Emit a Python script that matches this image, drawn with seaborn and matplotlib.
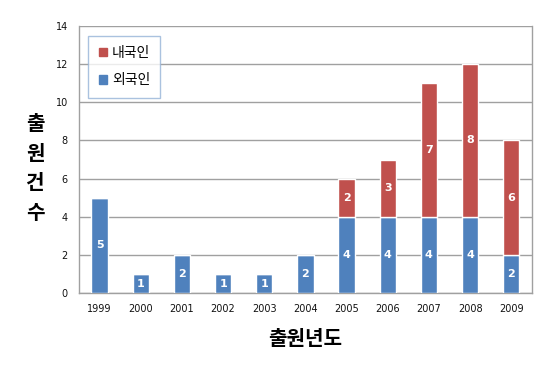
import pandas as pd
import matplotlib
matplotlib.use("Agg")
import matplotlib.pyplot as plt
import seaborn as sns
from matplotlib.patches import Patch

## Data
years = ["1999", "2000", "2001", "2002", "2003", "2004",
         "2005", "2006", "2007", "2008", "2009"]
foreign = [5, 1, 2, 1, 1, 2, 4, 4, 4, 4, 2]   # 외국인
domestic = [0, 0, 0, 0, 0, 0, 2, 3, 7, 8, 6]  # 내국인

blue = "#4F81BD"
red = "#C0504D"

sns.set_theme(style="white")
plt.rcParams["font.family"] = ["Noto Sans CJK KR", "DejaVu Sans"]

df = pd.DataFrame({"year": years, "foreign": foreign, "domestic": domestic})

fig = plt.figure(figsize=(5.5, 3.65), dpi=100)
ax = fig.add_axes([0.1436, 0.197, 0.8234, 0.732])

sns.barplot(data=df, x="year", y="foreign", color=blue, width=0.4,
            saturation=1, ax=ax, zorder=3)
sns.barplot(data=df, x="year", y="domestic", color=red, width=0.4,
            saturation=1, ax=ax, bottom=df["foreign"], zorder=3)

# value labels in the middle of each segment
for cont, vals in zip(ax.containers, [foreign, domestic]):
    labels = [str(v) if v > 0 else "" for v in vals]
    ax.bar_label(cont, labels=labels, label_type="center", color="white",
                 fontsize=8, fontweight="bold", family="DejaVu Sans")

ax.set_ylim(0, 14)
ax.set_xlim(-0.5, 10.5)
ax.set_yticks(range(0, 15, 2))
ax.yaxis.grid(True, color="#A0A0A0", linewidth=1, zorder=0)
ax.tick_params(axis="both", labelsize=7, length=0, pad=8, colors="#111111")
for lab in ax.get_xticklabels():
    lab.set_family("DejaVu Sans")
for lab in ax.get_yticklabels():
    lab.set_family("DejaVu Sans")

for side in ["left", "right", "bottom", "top"]:
    ax.spines[side].set_color("#A0A0A0")
    ax.spines[side].set_linewidth(1)
ax.spines["top"].set_visible(False)

ax.set_xlabel("출원년도", fontsize=14.5, fontweight="bold", labelpad=10,
              color="black")
ax.set_ylabel("")
fig.text(0.064, 0.54, "출\n원\n건\n수", fontsize=14.5, fontweight="bold",
         ha="center", va="center", linespacing=1.5, color="black")

handles = [Patch(color=red, label="내국인"), Patch(color=blue, label="외국인")]
leg = ax.legend(handles=handles, loc="upper left", bbox_to_anchor=(0.005, 0.99),
                fontsize=10, frameon=True, fancybox=False, handlelength=0.6,
                handleheight=0.6, handletextpad=0.35, labelspacing=0.95,
                borderpad=0.75, labelcolor="black")
leg.get_frame().set_edgecolor("#95B3D7")
leg.get_frame().set_linewidth(1)

fig.savefig("out.png", dpi=100)
